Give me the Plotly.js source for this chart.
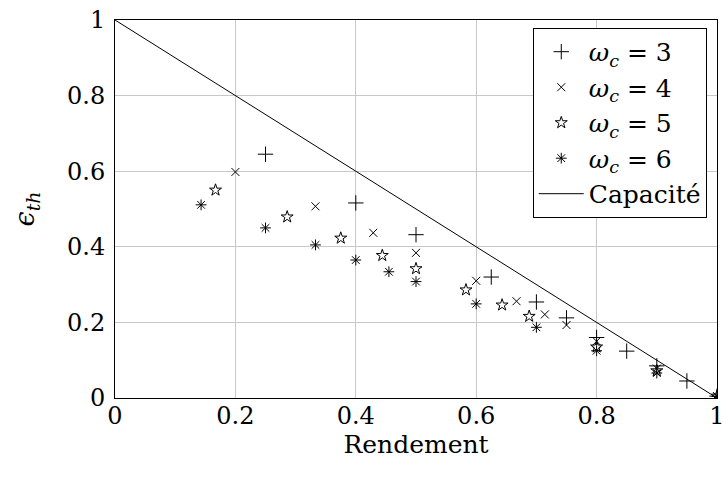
<!DOCTYPE html>
<html>
<head>
<meta charset="utf-8">
<script src="https://cdn.plot.ly/plotly-3.0.1.min.js"></script>
<style>html,body{margin:0;padding:0;background:#fff;}#chart{width:723px;height:479px;}</style>
</head>
<body>
<div id="chart"></div>
<script>
// Data
const x_w3 = [0.25, 0.4, 0.5, 0.625, 0.7, 0.75, 0.8, 0.85, 0.9, 0.95, 1.0];
const y_w3 = [0.645, 0.516, 0.432, 0.32, 0.254, 0.212, 0.16, 0.124, 0.085, 0.045, 0.005];

const x_w4 = [0.2, 0.333, 0.429, 0.5, 0.6, 0.667, 0.714, 0.75, 0.8, 0.9, 1.0];
const y_w4 = [0.598, 0.507, 0.437, 0.384, 0.31, 0.256, 0.221, 0.193, 0.15, 0.078, 0.005];

const x_w5 = [0.167, 0.286, 0.375, 0.444, 0.5, 0.583, 0.643, 0.688, 0.8, 0.9, 1.0];
const y_w5 = [0.55, 0.479, 0.423, 0.377, 0.342, 0.286, 0.246, 0.216, 0.135, 0.072, 0.005];

const x_w6 = [0.143, 0.25, 0.333, 0.4, 0.455, 0.5, 0.6, 0.7, 0.8, 0.9, 1.0];
const y_w6 = [0.511, 0.45, 0.405, 0.365, 0.334, 0.308, 0.249, 0.187, 0.125, 0.066, 0.004];

const x_cap = [0, 1];
const y_cap = [1, 0];

const names = ["<i>ω</i><sub><i>c</i></sub> = 3", "<i>ω</i><sub><i>c</i></sub> = 4",
               "<i>ω</i><sub><i>c</i></sub> = 5", "<i>ω</i><sub><i>c</i></sub> = 6", "Capacité"];
const tickVals = [0, 0.2, 0.4, 0.6, 0.8, 1];
const tickText = ["0", "0.2", "0.4", "0.6", "0.8", "1"];

const FONT = "DejaVu Serif";

function mk(x, y, name, sym, size) {
  return {x: x, y: y, name: name, type: 'scatter', mode: 'markers',
    marker: {symbol: sym, size: size, color: 'black', line: {color: 'black', width: 1}}};
}

const traces = [
  mk(x_w3, y_w3, names[0], 'cross-thin-open', 11),
  mk(x_w4, y_w4, names[1], 'x-thin-open', 8),
  mk(x_w5, y_w5, names[2], 'star-open', 9),
  mk(x_w6, y_w6, names[3], 'asterisk-open', 9),
  {x: x_cap, y: y_cap, name: names[4], type: 'scatter', mode: 'lines',
   line: {color: 'black', width: 1}}
];

const layout = {
  width: 723, height: 479,
  margin: {l: 115, r: 6, t: 20, b: 81},
  paper_bgcolor: 'white', plot_bgcolor: 'white',
  font: {family: FONT, color: 'black', size: 24},
  showlegend: true,
  legend: {
    x: 0.983, y: 0.979, xanchor: 'right', yanchor: 'top',
    bgcolor: 'white', bordercolor: 'black', borderwidth: 1,
    font: {family: FONT, size: 25, color: 'black'},
    tracegroupgap: 0, itemwidth: 45
  },
  xaxis: {
    range: [0, 1], tickvals: tickVals, ticktext: tickText,
    showgrid: true, gridcolor: '#c8c8c8', gridwidth: 1,
    zeroline: false, showline: true, linecolor: 'black', linewidth: 1, mirror: true,
    ticks: '', ticklabeloverflow: 'allow', ticklabelstandoff: -4,
    tickfont: {family: FONT, size: 24, color: 'black'},
    title: {text: 'Rendement', font: {family: FONT, size: 25, color: 'black'}, standoff: 0}
  },
  yaxis: {
    range: [0, 1], tickvals: tickVals, ticktext: tickText,
    showgrid: true, gridcolor: '#c8c8c8', gridwidth: 1,
    zeroline: false, showline: true, linecolor: 'black', linewidth: 1, mirror: true,
    ticks: '', ticklabeloverflow: 'allow', ticklabelstandoff: 4,
    tickfont: {family: FONT, size: 24, color: 'black'},
    title: {text: '<i>ϵ</i><sub><i>th</i></sub>', font: {family: FONT, size: 27, color: 'black'}, standoff: 24}
  }
};

Plotly.newPlot('chart', traces, layout, {staticPlot: true, displayModeBar: false});
</script>
</body>
</html>
